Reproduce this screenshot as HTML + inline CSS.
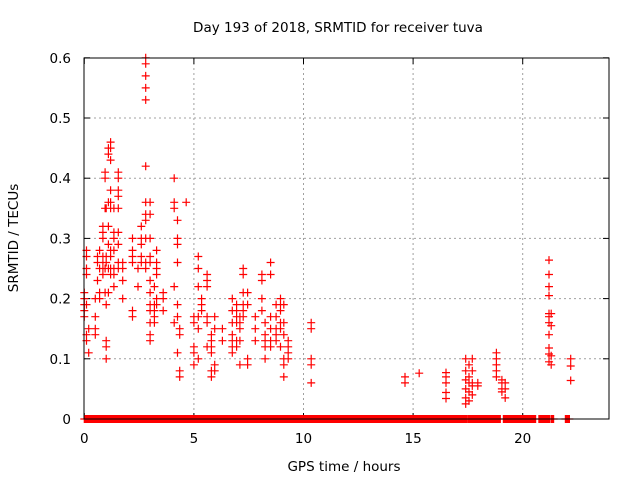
<!DOCTYPE html>
<html><head><meta charset="utf-8"><style>
body{margin:0;background:#fff;}
svg{display:block;font-family:"DejaVu Sans","Liberation Sans",sans-serif;}
</style></head><body>
<svg id="chart" width="640" height="480" viewBox="0 0 640 480">
<rect width="640" height="480" fill="#fff"/>
<g id="grid"></g>
<g id="ticks"></g>
<g id="marks"></g>
<rect x="84" y="58" width="525" height="361" fill="none" stroke="#000" stroke-width="1"/>
<text x="338" y="32" font-size="13.5" text-anchor="middle">Day 193 of 2018, SRMTID for receiver tuva</text>
<text x="344" y="471" font-size="13.5" text-anchor="middle">GPS time / hours</text>
<text transform="translate(18,238) rotate(-90)" font-size="13.5" text-anchor="middle">SRMTID / TECUs</text>
</svg>
<script>
const xTicks=[0,5,10,15,20];
const yTicks=[0,0.1,0.2,0.3,0.4,0.5,0.6];
const yTickLabels=["0","0.1","0.2","0.3","0.4","0.5","0.6"];
const zeroSegments=[[0,17.47],[17.52,17.82],[17.87,19.0],[19.12,20.6],[20.74,21.24],[21.29,21.42],[21.95,22.15]];
const pointTimes=[0.0,0.1,0.2,0.5,0.6,0.7,0.85,0.95,1.0,1.1,1.2,1.35,1.55,1.75,2.2,2.45,2.6,2.8,3.0,3.2,3.3,3.6,4.1,4.25,4.35,4.65,5.0,5.2,5.35,5.6,5.8,5.95,6.3,6.75,6.95,7.1,7.25,7.45,7.8,8.1,8.25,8.5,8.75,8.95,9.1,9.3,10.35,14.63,15.28,16.5,17.4,17.55,17.7,17.95,18.8,19.05,19.2,21.2,21.3,22.19];
const pointValues=[
[.21,.20,.19,.18,.17],[.28,.27,.25,.24,.19,.14,.13],[.11,.15],[.17,.15,.14,.20],[.23,.26,.27],[.28,.25,.21,.2],
[.31,.32,.30,.27,.26,.25,.24],[.41,.40,.35,.25,.21],[.13,.12,.10,.35,.27,.26,.19],[.44,.45,.36,.29,.32,.25,.21],
[.46,.45,.43,.38,.36,.35,.28,.27,.25,.24],[.35,.31,.30,.28,.25,.24,.22],[.41,.40,.38,.37,.35,.31,.29,.26,.25],
[.26,.25,.23,.20],[.30,.28,.27,.26,.18,.17],[.22,.25],[.32,.30,.29,.30,.26,.27],
[.60,.59,.57,.55,.53,.42,.36,.34,.33,.30,.25,.26],[.36,.34,.30,.27,.26,.23,.21,.19,.18,.16,.14,.13],
[.22,.19,.18,.17,.16],[.28,.26,.24,.25,.20,.19],[.21,.20,.18],[.36,.35,.40,.16,.22],[.33,.30,.29,.26,.19,.17,.11],
[.08,.07,.15,.14],[.36],[.17,.16,.12,.11,.09],[.27,.25,.22,.17,.15,.10],[.20,.19,.18],[.24,.23,.22,.17,.16,.12],
[.14,.13,.12,.11,.08,.07],[.17,.15,.09,.08],[.13,.15],[.20,.18,.16,.14,.13,.12,.11],[.19,.18,.17,.16,.13,.12],
[.17,.16,.15,.13,.09],[.25,.24,.21,.19,.18,.17],[.21,.19,.10,.09],[.17,.15,.13],[.24,.23,.20,.18],
[.16,.14,.13,.12,.10],[.26,.24,.17,.15,.13,.12],[.19,.17,.15,.14,.13],[.20,.19,.18,.16,.15,.12],
[.19,.16,.14,.10,.09,.07],[.13,.12,.11,.10],[.16,.15,.10,.09,.06],[.07,.06],[.076],[.077,.07,.06,.044,.034],
[.10,.08,.065,.05,.035,.025],[.09,.07,.06,.045,.03],[.10,.08,.06,.055,.04],[.055,.06],[.11,.1,.09,.08,.07],
[.065,.06,.05,.045],[.06,.05,.035],[.264,.24,.22,.205,.175,.17,.16,.14,.118,.108,.095],[.175,.155,.105,.09],[.10,.088,.064]];
const X0=84.3,XS=21.92,Y0=419,YS=602;
const xs=t=>X0+t*XS, ys=v=>Y0-v*YS;
const NS="http://www.w3.org/2000/svg";
const g=document.getElementById('grid'),tk=document.getElementById('ticks'),mk=document.getElementById('marks');
function el(tag,attrs,parent){const e=document.createElementNS(NS,tag);for(const k in attrs)e.setAttribute(k,attrs[k]);parent.appendChild(e);return e;}
xTicks.forEach(t=>{const x=xs(t);
 if(t>0){const l=el('line',{x1:x,x2:x,y1:58,y2:419,stroke:'#a0a0a0','stroke-dasharray':'2,3'},g);
 
 }
 el('line',{x1:x,x2:x,y1:419,y2:413,stroke:'#000'},tk);el('line',{x1:x,x2:x,y1:58,y2:64,stroke:'#000'},tk);
 const tx=el('text',{x:x,y:443,'font-size':13.5,'text-anchor':'middle'},tk);tx.textContent=t;
 
 });
yTicks.forEach((v,i)=>{const y=ys(v);
 if(v>0&&v<0.6){const l=el('line',{x1:84,x2:609,y1:y,y2:y,stroke:'#a0a0a0','stroke-dasharray':'2,3'},g);
 
 }
 el('line',{x1:84,x2:90,y1:y,y2:y,stroke:'#000'},tk);el('line',{x1:603,x2:609,y1:y,y2:y,stroke:'#000'},tk);
 const tx=el('text',{x:71,y:y+5,'font-size':13.5,'text-anchor':'end'},tk);tx.textContent=yTickLabels[i];
 
 });
let d='';
function plus(x,y){d+=`M${(x-4).toFixed(1)} ${y.toFixed(1)}h8M${x.toFixed(1)} ${(y-4).toFixed(1)}v8`;}
zeroSegments.forEach(s=>{for(let t=s[0];t<=s[1]+1e-6;t+=0.03)plus(xs(t),ys(0));});
pointTimes.forEach((t,i)=>pointValues[i].forEach(v=>plus(xs(t),ys(v))));
const p=el('path',{d:d,stroke:'#ff0000','stroke-width':1.2,fill:'none'},mk);


</script>
</body></html>
